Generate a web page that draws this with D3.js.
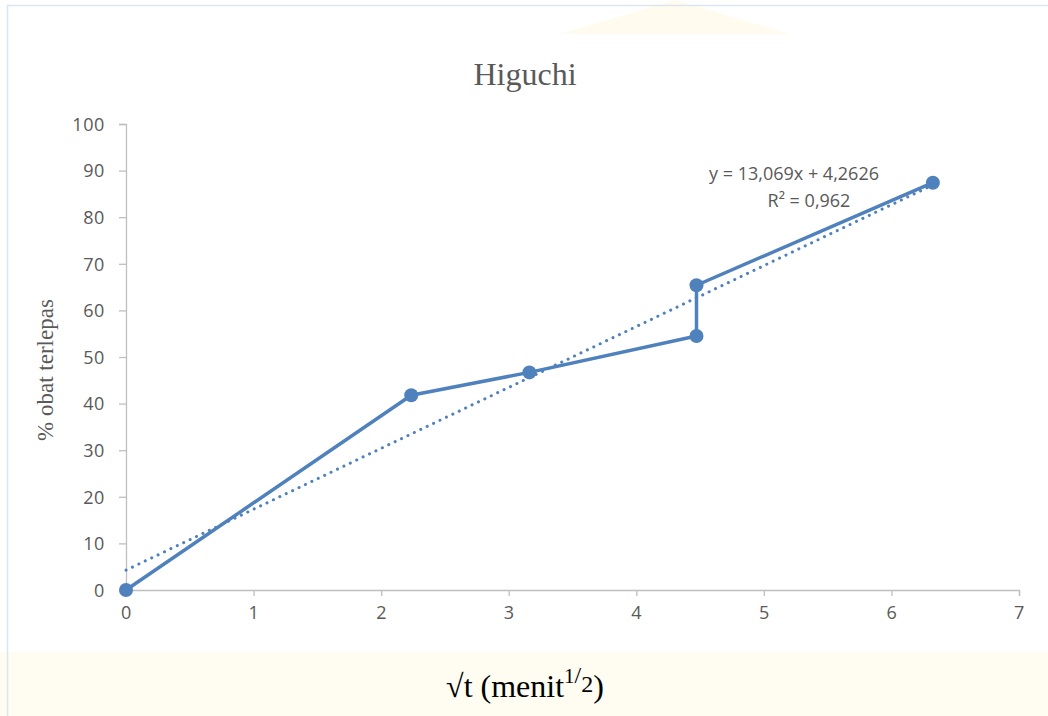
<!DOCTYPE html>
<html lang="en">
<head>
    <meta charset="UTF-8">
    <title>Higuchi</title>
    <style>
        body { margin: 0; background: #fff; }
        .tick text { font-family: "Open Sans", "Liberation Sans", sans-serif; font-size: 18px; letter-spacing: 0.6px; fill: #595959; }
        .tick line, .domain { stroke: #bfbfbf; stroke-width: 1.3px; }
    </style>
</head>
<body>
    <svg></svg>
    <script src="https://d3js.org/d3.v7.min.js"></script>
    <script>
let width = 1048, height = 716;

// data
let xs = [0, 2.236, 3.162, 4.472, 4.472, 6.325];
let ys = [0, 41.8, 46.7, 54.5, 65.4, 87.4];
let xTicks = [0, 1, 2, 3, 4, 5, 6, 7];
let yTicks = [0, 10, 20, 30, 40, 50, 60, 70, 80, 90, 100];
let slope = 13.069, intercept = 4.2626;
let eqLines = ["y = 13,069x + 4,2626", "R² = 0,962"];

let svg = d3.select("svg")
    .attr("width", width)
    .attr("height", height);

// page background: watermark-ish pale band at bottom
svg.append("rect")
    .attr("x", 0).attr("y", 652)
    .attr("width", width).attr("height", height - 652)
    .attr("fill", "#fffdf2");
svg.append("path")
    .attr("d", "M560,34 L675,0 L790,34 Z")
    .attr("fill", "#fffcef");

// chart frame
svg.append("path")
    .attr("d", "M7.5," + height + " L7.5,5.5 L" + width + ",5.5")
    .attr("fill", "none")
    .attr("stroke", "#dce6f2")
    .attr("stroke-width", 1.5);

let x = d3.scaleLinear().domain([0, 7]).range([126, 1019]);
let y = d3.scaleLinear().domain([0, 100]).range([590, 124]);

svg.append("g")
    .attr("transform", "translate(0,590)")
    .call(d3.axisBottom(x).tickValues(xTicks).tickSize(6).tickPadding(10).tickFormat(d3.format("d")));

svg.append("g")
    .attr("transform", "translate(126,0)")
    .call(d3.axisLeft(y).tickValues(yTicks).tickSize(7).tickPadding(14).tickFormat(d3.format("d")))
    .selectAll(".tick text").attr("dy", "0.35em");

// trendline
svg.append("line")
    .attr("x1", x(0)).attr("y1", y(intercept))
    .attr("x2", x(xs[xs.length - 1])).attr("y2", y(intercept + slope * xs[xs.length - 1]))
    .attr("stroke", "#4f81bd")
    .attr("stroke-width", 3)
    .attr("stroke-linecap", "round")
    .attr("stroke-dasharray", "0.1 7");

let pts = xs.map((v, i) => [v, ys[i]]);

svg.append("path")
    .datum(pts)
    .attr("d", d3.line().x(d => x(d[0])).y(d => y(d[1])))
    .attr("fill", "none")
    .attr("stroke", "#4f81bd")
    .attr("stroke-width", 3.5)
    .attr("stroke-linejoin", "round");

svg.selectAll("circle.pt")
    .data(pts)
    .enter()
    .append("circle")
        .attr("class", "pt")
        .attr("cx", d => x(d[0]))
        .attr("cy", d => y(d[1]))
        .attr("r", 7)
        .attr("fill", "#4f81bd");

// equation label
svg.append("g")
    .selectAll("text")
    .data(eqLines)
    .enter()
    .append("text")
        .attr("x", (d, i) => i ? 809 : 794)
        .attr("y", (d, i) => 180 + i * 27)
        .attr("text-anchor", "middle")
        .style("font-family", "'Open Sans', 'Liberation Sans', sans-serif")
        .style("font-size", "18px")
        .attr("fill", "#595959")
        .text(d => d);

// title
svg.append("text")
    .attr("x", 525).attr("y", 85)
    .attr("text-anchor", "middle")
    .style("font-family", "'Liberation Serif', 'Times New Roman', serif")
    .style("font-size", "32px")
    .attr("fill", "#595959")
    .text("Higuchi");

// y label
svg.append("text")
    .attr("transform", "translate(53,370) rotate(-90)")
    .attr("text-anchor", "middle")
    .style("font-family", "'Liberation Serif', 'Times New Roman', serif")
    .style("font-size", "23px")
    .attr("fill", "#595959")
    .text("% obat terlepas");

// x label
let xl = svg.append("text")
    .attr("x", 525).attr("y", 697)
    .attr("text-anchor", "middle")
    .style("font-family", "'Liberation Serif', 'Times New Roman', serif")
    .style("font-size", "32px")
    .attr("fill", "#000");
xl.append("tspan").text("√t (menit");
xl.append("tspan").attr("dy", -14).style("font-size", "21px").text("1");
xl.append("tspan").style("font-size", "24px").text("/");
xl.append("tspan").attr("dy", 9).style("font-size", "24px").text("2");
xl.append("tspan").attr("dy", 5).text(")");
    </script>
</body>
</html>
